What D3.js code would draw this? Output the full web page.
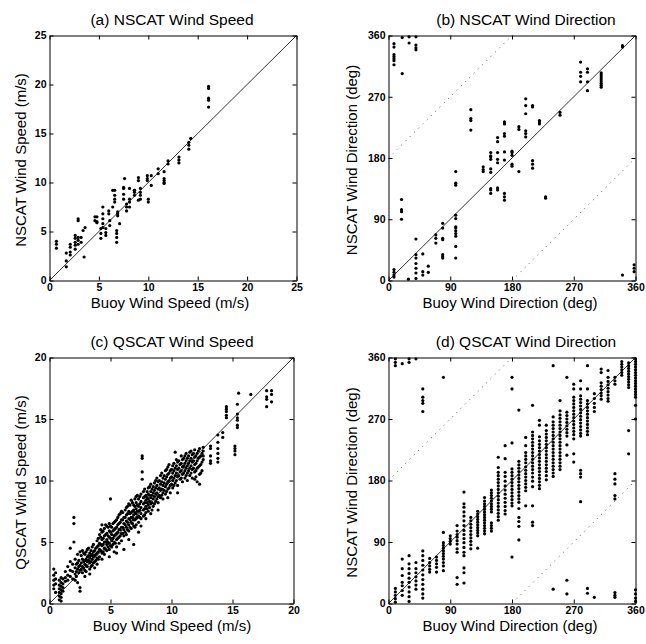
<!DOCTYPE html>
<html>
<head>
<meta charset="utf-8">
<script src="https://cdn.jsdelivr.net/npm/d3@7"></script>
<style>
  body { margin: 0; background: #fff; }
  svg text { font-family: "Liberation Sans", Arial, sans-serif; fill: #000; }
</style>
</head>
<body>
<div id="chart"></div>
<script>
// ---- data: [buoy value, [satellite values...]] ----
var speedTicksA = [0, 5, 10, 15, 20, 25];
var speedTicksC = [0, 5, 10, 15, 20];
var dirTicks = [0, 90, 180, 270, 360];

var titles = ["(a) NSCAT Wind Speed", "(b) NSCAT Wind Direction", "(c) QSCAT Wind Speed", "(d) QSCAT Wind Direction"];
var xLabels = ["Buoy Wind Speed (m/s)", "Buoy Wind Direction (deg)", "Buoy Wind Speed (m/s)", "Buoy Wind Direction (deg)"];
var yLabels = ["NSCAT Wind Speed (m/s)", "NSCAT Wind Direction (deg)", "QSCAT Wind Speed (m/s)", "NSCAT Wind Direction (deg)"];

var nscatSpeed = [
  [0.7, [4.0, 3.7, 3.3]], [1.7, [2.8, 2.0, 1.4]], [2.1, [3.7, 3.4, 2.9, 2.6]],
  [2.6, [4.6, 4.3, 3.9, 3.6, 3.2]], [2.9, [6.3, 6.1, 4.4, 4.1, 3.7]], [3.2, [4.4, 3.9]],
  [3.4, [5.1]], [3.5, [2.4]], [3.6, [5.4]], [4.6, [6.5, 6.1]], [4.8, [6.5, 5.9, 6.0]],
  [5.2, [5.3, 4.8, 4.3]], [5.4, [7.5, 6.8, 6.3, 5.8, 5.4]], [5.7, [5.3, 4.9, 4.6]],
  [6.0, [7.1, 6.8]], [6.1, [6.1, 5.6]], [6.4, [7.5, 9.2]], [6.6, [9.2, 8.7, 8.3, 8.0]],
  [6.8, [5.1, 4.8, 4.4, 3.9]], [6.9, [7.0, 6.8, 6.6]], [7.1, [5.8]],
  [7.5, [9.5, 9.4, 8.8, 8.3]], [7.6, [10.4]], [7.8, [7.8, 7.5, 7.1]],
  [8.1, [9.4, 8.3, 8.0, 7.5]], [8.6, [9.2, 9.2, 9.0, 8.7]], [9.0, [10.5, 10.2, 8.2]],
  [9.2, [9.4, 9.0, 8.7, 8.3]], [9.9, [10.7, 10.4, 10.2]], [10.0, [8.3, 8.0]],
  [10.3, [10.7, 9.7]], [11.0, [11.4, 10.9]], [11.6, [11.1, 10.4, 10.2, 10.0, 9.9]],
  [12.0, [12.2, 11.9]], [13.1, [12.6, 12.3, 12.0]], [14.1, [14.1, 13.8, 13.4]],
  [14.3, [14.5]], [16.1, [19.8, 19.6, 18.6, 18.4, 17.7]]
];

var nscatDir = [
  [8, [348, 343, 332, 329, 326, 323, 317, 16, 12, 8, 5]], [19, [119, 104, 101, 90]],
  [20, [357, 304]], [29, [2]], [30, [358, 349]],
  [40, [358, 346, 342, 339, 61, 38, 33, 25, 18, 11, 3]], [50, [39, 13, 8]], [58, [21, 12]],
  [69, [67, 62, 55]], [79, [84, 77, 62, 60, 38, 35, 33]],
  [98, [160, 143, 140, 96, 91, 79, 77, 73, 69, 65, 50, 33]], [120, [251, 238, 235, 221]],
  [138, [167, 163, 160]], [149, [188, 183, 182, 178, 164, 159, 135, 133, 128]],
  [159, [210, 204, 188, 178, 173, 136, 133]], [169, [233, 230, 216, 212, 189, 177, 128, 123, 118]],
  [180, [190, 188, 184, 171, 168]], [190, [226, 222, 160]], [200, [267, 257, 245, 220, 216, 211]],
  [210, [257, 255, 176, 171, 165]], [220, [235, 233, 230]], [229, [123, 121]], [250, [247, 243]],
  [280, [321, 306, 300, 292]], [290, [311, 306, 292, 279]],
  [310, [305, 302, 299, 296, 293, 290, 287, 284]], [341, [345, 343, 8]], [358, [23, 18, 13]]
];

var qscatSpeed = [
  [0.35, [2.8, 2.3, 1.9, 1.5, 1.2]], [0.5, [2.5, 2.0, 1.6, 0.9]],
  [0.8, [1.9, 1.5, 1.2, 0.9, 0.6, 0.3]], [0.95, [2.1, 1.7, 1.4, 1.1, 0.8, 0.5, 0.2]],
  [1.1, [2.0, 1.6, 1.3, 1.0]], [1.3, [2.6, 2.1, 1.8]], [1.5, [2.3, 1.9, 3.0]],
  [1.7, [2.7, 2.2, 4.5, 3.4]], [1.9, [3.2, 2.6, 2.0]], [2.0, [7.0, 6.5, 5.0]],
  [2.1, [3.6, 2.9, 2.4, 1.9]], [2.2, [3.2, 2.6, 2.2]], [2.3, [4.0, 3.3, 2.8, 1.7]],
  [2.4, [3.5, 3.0, 2.5]], [2.5, [3.1, 2.7, 1.3, 1.0, 4.2]], [2.6, [3.9, 3.3, 2.8]],
  [2.7, [4.3, 3.6, 3.0, 2.5]], [2.8, [4.1, 3.4, 2.9]], [2.9, [4.0, 3.5, 3.2, 2.7, 2.2]],
  [3.0, [4.2, 3.6, 3.1, 2.6]], [3.1, [4.4, 3.8, 3.4, 3.0]], [3.2, [4.5, 3.9, 3.5]],
  [3.3, [4.1, 3.7, 3.3, 2.8, 2.4]], [3.4, [4.3, 3.9, 3.4, 3.0]], [3.5, [4.6, 4.0, 3.6, 3.1]],
  [3.6, [4.8, 4.2, 3.8, 3.3]], [3.7, [4.3, 3.9, 3.4, 2.9]], [3.8, [4.5, 4.0, 3.5]],
  [3.9, [5.1, 4.6, 4.1, 3.7, 3.2]], [4.0, [5.3, 4.7, 4.2, 3.6]], [4.1, [5.6, 4.9, 4.4, 3.8]],
  [4.2, [6.0, 5.4, 4.8, 4.3]], [4.3, [6.4, 5.8, 5.2, 4.7, 4.1, 3.6]], [4.4, [5.9, 5.3, 4.8, 4.2]],
  [4.5, [6.1, 5.5, 5.0, 4.5, 4.0]], [4.6, [6.4, 5.6, 5.0, 4.4]], [4.7, [6.3, 5.7, 5.2, 4.8, 4.3]],
  [4.8, [6.2, 5.5, 5.0, 4.6]], [4.9, [6.5, 5.9, 5.4, 4.9, 4.4, 3.8]], [5.0, [8.5, 6.3, 5.8, 5.3, 4.7]],
  [5.1, [6.2, 5.6, 5.1, 4.6]], [5.2, [6.5, 5.9, 5.3, 4.8]], [5.3, [6.6, 6.0, 5.5, 5.0, 4.2]],
  [5.4, [6.7, 6.1, 5.6, 4.9]], [5.5, [6.8, 6.2, 5.7, 5.2, 4.6, 4.1]], [5.6, [7.0, 6.4, 5.8, 5.3]],
  [5.7, [7.2, 6.5, 6.0, 5.4, 4.9]], [5.8, [7.3, 6.6, 6.0, 5.5]], [5.9, [7.5, 6.8, 6.2, 5.7, 5.1]],
  [6.0, [7.4, 6.8, 6.2, 5.7]], [6.1, [7.0, 6.5, 6.0, 5.5, 4.4]], [6.2, [7.6, 7.0, 6.4, 5.8]],
  [6.3, [7.8, 7.2, 6.7, 6.2, 5.6]], [6.4, [7.9, 7.3, 6.6, 6.0]], [6.5, [8.1, 7.5, 6.9, 6.4, 5.9, 5.2]],
  [6.6, [8.0, 7.3, 6.8, 6.2]], [6.7, [8.4, 7.4, 7.0, 6.6, 6.1]], [6.8, [8.2, 7.5, 7.0, 6.5]],
  [6.9, [8.0, 7.6, 7.2, 6.8, 6.3, 4.8]], [7.0, [8.5, 7.9, 7.4, 6.8, 6.2]],
  [7.1, [8.7, 8.2, 7.7, 7.3, 6.9, 6.4]], [7.2, [8.8, 8.0, 7.5, 7.0]],
  [7.3, [8.5, 7.9, 7.5, 7.1, 6.6, 5.8]], [7.4, [8.7, 8.1, 7.6, 7.0]],
  [7.5, [8.9, 8.3, 7.8, 7.3, 6.9, 6.3]], [7.6, [12.0, 11.8, 10.7, 10.1]],
  [7.7, [9.1, 8.6, 8.1, 7.6, 7.1]], [7.8, [9.3, 8.7, 8.2, 7.7, 7.2]], [7.9, [8.8, 8.4, 7.9, 7.4, 6.9]],
  [8.0, [9.1, 8.6, 8.2, 7.7]], [8.1, [9.4, 8.9, 8.5, 8.0, 7.5]], [8.2, [9.5, 8.8, 8.3, 7.8]],
  [8.3, [9.7, 9.1, 8.6, 8.1, 7.3]], [8.4, [9.3, 8.8, 8.2, 7.6]], [8.5, [9.5, 9.0, 8.5, 7.9]],
  [8.6, [9.8, 9.2, 8.7, 8.1]], [8.7, [10.0, 9.4, 8.9, 8.3]], [8.8, [10.2, 9.6, 9.0, 8.5]],
  [8.9, [9.9, 9.3, 8.7, 8.2, 7.6]], [9.0, [10.0, 9.4, 8.8]], [9.1, [10.4, 9.7, 9.2, 8.6]],
  [9.2, [10.6, 9.9, 9.3, 8.8]], [9.3, [10.2, 9.6, 9.0, 8.5]], [9.4, [10.4, 9.8, 9.2]],
  [9.5, [10.8, 10.1, 9.5, 8.9]], [9.6, [10.9, 10.3, 9.7, 9.1]], [9.7, [11.1, 10.5, 9.9, 9.3, 8.6]],
  [9.8, [11.3, 10.6, 10.0, 9.4]], [9.9, [10.8, 10.2, 9.6, 9.0]], [10.0, [10.9, 10.3, 9.7]],
  [10.1, [11.2, 10.6, 10.0, 9.4]], [10.2, [11.4, 10.8, 10.2, 9.6]], [10.3, [12.3, 11.0, 10.4, 9.8]],
  [10.4, [11.7, 11.2, 10.6, 10.0]], [10.5, [11.5, 10.9, 10.3, 9.6, 9.0]], [10.6, [11.6, 11.0, 10.4]],
  [10.7, [11.3, 10.7, 10.1]], [10.8, [12.0, 11.4, 10.8, 10.2]], [10.9, [11.7, 11.1, 10.5, 9.9]],
  [11.0, [11.8, 11.2, 10.6]], [11.1, [12.0, 11.4, 10.8, 10.2]], [11.2, [12.2, 11.6, 11.0, 10.4]],
  [11.3, [11.8, 11.2, 10.6, 10.0]], [11.4, [12.0, 11.4, 10.8]], [11.5, [12.3, 11.6, 11.0, 10.4]],
  [11.6, [12.4, 11.8, 11.2, 10.6]], [11.7, [12.1, 11.5, 10.9, 10.2]], [11.8, [12.2, 11.6, 11.0]],
  [11.9, [12.5, 11.9, 11.3, 10.7, 10.1]], [12.0, [12.0, 11.4, 10.8, 10.3]],
  [12.1, [12.2, 11.6, 11.0, 9.9]], [12.2, [12.4, 11.8, 11.1]], [12.3, [12.6, 11.9, 11.2, 10.5, 9.7]],
  [12.4, [12.0, 11.3, 10.6]], [12.5, [12.2, 11.5, 10.8]], [12.6, [12.7, 12.4, 12.0, 11.7]],
  [13.2, [12.8, 12.6, 12.0, 11.6, 11.4]], [13.8, [13.7, 13.1, 12.6, 12.2, 11.8, 11.5]],
  [14.2, [13.9, 13.5]], [14.5, [16.0, 15.8, 15.6, 15.3, 15.1]], [15.2, [12.8, 12.6, 12.4, 12.1]],
  [15.4, [16.2, 15.4, 15.1, 14.9, 14.5, 14.3]], [15.5, [17.1]], [16.5, [17.0]],
  [17.8, [17.3, 16.8, 16.6, 16.0]], [18.2, [17.3, 17.0, 16.4]]
];

var qscatDir = [
  [10, [358, 353, 348, 22, 17, 12, 7, 2]],
  [20, [351, 65, 51, 41, 31, 26, 19, 12]],
  [30, [358, 353, 70, 58, 51, 44, 37, 31, 24, 17, 10, 3]],
  [40, [358, 60, 51, 45, 39, 33, 27, 21]],
  [50, [314, 302, 297, 293, 281, 77, 70, 63, 56, 49, 42, 35, 28, 21, 14, 8]],
  [60, [66, 60, 55, 50, 46]],
  [70, [68, 63, 58, 53, 46]],
  [80, [331, 104, 89, 85, 81, 77, 73, 69, 65, 60, 55, 48]],
  [90, [99, 95, 91, 87]],
  [100, [114, 106, 101, 97, 92, 87, 80, 75, 38, 28]],
  [110, [163, 146, 141, 134, 128, 121, 114, 107, 101, 95, 89, 82, 75, 70, 52, 45, 30]],
  [120, [126, 121, 116, 111, 106, 101, 96, 91, 86, 80]],
  [130, [135, 131, 127, 123, 119, 115, 111, 107, 103, 99, 81]],
  [140, [155, 150, 146, 142, 138, 134, 130, 126, 122, 118, 114, 110, 106, 102]],
  [150, [166, 162, 158, 154, 150, 146, 142, 138, 134, 118, 114, 110, 106]],
  [160, [214, 199, 192, 187, 182, 177, 172, 167, 162, 157, 152, 147, 142, 137, 132, 127, 122]],
  [170, [231, 212, 192, 186, 179, 172, 166, 160, 154, 148, 142, 136, 131]],
  [180, [331, 314, 235, 197, 192, 187, 182, 177, 172, 167, 162, 157, 152, 147, 143, 68]],
  [190, [283, 208, 203, 198, 193, 188, 183, 178, 173, 168, 163, 158, 153, 148, 139, 126, 120, 113, 93]],
  [200, [243, 231, 221, 216, 211, 206, 200, 195, 190, 185, 180, 175, 170, 165, 143]],
  [210, [290, 251, 246, 241, 236, 231, 226, 221, 216, 211, 206, 201, 196, 191, 185, 179, 171, 143, 119, 114]],
  [220, [268, 261, 244, 238, 233, 228, 223, 218, 213, 208, 203, 198, 193, 188, 183, 178, 173, 168]],
  [230, [261, 253, 248, 243, 238, 233, 228, 223, 218, 213, 208, 203, 198, 193, 187, 181]],
  [240, [348, 273, 266, 261, 256, 251, 246, 241, 236, 231, 226, 221, 216, 211, 206, 201, 196, 191, 186, 21]],
  [250, [297, 282, 276, 271, 266, 261, 256, 251, 246, 241, 236, 231, 226, 221, 216, 211, 206, 201, 196]],
  [260, [331, 280, 275, 270, 265, 260, 255, 250, 245, 232, 217, 34, 14]],
  [270, [321, 314, 302, 297, 292, 287, 282, 277, 272, 267, 262, 257, 252, 247, 241, 219, 207]],
  [280, [326, 314, 304, 299, 294, 289, 284, 279, 274, 269, 264, 259, 254, 249, 245, 195, 190, 185, 149]],
  [290, [348, 314, 297, 292, 287, 282, 277, 272, 267, 262, 257, 252, 247, 22, 15]],
  [300, [307, 300, 293, 287, 281, 9]],
  [310, [343, 338, 323, 318, 313, 308, 304, 299]],
  [320, [341, 331, 325, 320, 315, 310, 305, 300, 296]],
  [330, [331, 326, 321, 190, 182, 175, 158, 153, 16, 12, 9]],
  [340, [354, 350, 346, 342, 338, 334]],
  [350, [352, 348, 344, 340, 336, 332, 328, 324, 320, 316, 253, 219]],
  [360, [358, 354, 350, 346, 342, 338, 334, 330, 326, 322, 318, 314, 310, 306, 302, 290, 270, 20, 14, 8, 3]]
];

// ---- layout ----
var panels = [
  { cols: nscatSpeed, max: 25, ticks: speedTicksA, left: 49.5, right: 296.5, top: 35.5, bottom: 280.5, titleX: 172, labX: 170, ylabX: 26, dir: false },
  { cols: nscatDir, max: 360, ticks: dirTicks, left: 388.5, right: 635.5, top: 35.5, bottom: 280.5, titleX: 526, labX: 510, ylabX: 357, dir: true },
  { cols: qscatSpeed, max: 20, ticks: speedTicksC, left: 49.5, right: 293.5, top: 357.5, bottom: 603.5, titleX: 172, labX: 172, ylabX: 26, dir: false },
  { cols: qscatDir, max: 360, ticks: dirTicks, left: 388.5, right: 635.5, top: 357.5, bottom: 603.5, titleX: 526, labX: 510, ylabX: 357, dir: true }
];

var svg = d3.select("#chart").append("svg")
  .attr("width", 646)
  .attr("height", 644);

panels.forEach(function (p, i) {
  var x = d3.scaleLinear().domain([0, p.max]).range([p.left, p.right]);
  var y = d3.scaleLinear().domain([0, p.max]).range([p.bottom, p.top]);
  var g = svg.append("g");

  // frame with inward ticks on all four sides
  var axes = [
    [d3.axisBottom(x), "translate(0," + p.bottom + ")", true],
    [d3.axisTop(x), "translate(0," + p.top + ")", false],
    [d3.axisLeft(y), "translate(" + p.left + ",0)", true],
    [d3.axisRight(y), "translate(" + p.right + ",0)", false]
  ];
  axes.forEach(function (a) {
    var ax = a[0].tickValues(p.ticks).tickSize(-4).tickSizeOuter(0).tickPadding(3);
    if (!a[2]) ax.tickFormat("");
    var ag = g.append("g").attr("transform", a[1]).call(ax);
    ag.select(".domain").attr("stroke", "#000").attr("stroke-width", 1);
    ag.selectAll(".tick line").attr("stroke", "#000");
    ag.selectAll("text")
      .style("font-size", "10.5px")
      .style("font-weight", "bold")
      .attr("fill", "#000");
  });

  // 1:1 line
  g.append("line")
    .attr("x1", x(0)).attr("y1", y(0))
    .attr("x2", x(p.max)).attr("y2", y(p.max))
    .attr("stroke", "#000").attr("stroke-width", 0.8);

  // +/-180 deg wrap lines
  if (p.dir) {
    [[0, 180, 180, 360], [180, 0, 360, 180]].forEach(function (l) {
      g.append("line")
        .attr("x1", x(l[0])).attr("y1", y(l[1]))
        .attr("x2", x(l[2])).attr("y2", y(l[3]))
        .attr("stroke", "#555").attr("stroke-width", 1)
        .attr("stroke-dasharray", "1,5");
    });
  }

  var pts = [];
  p.cols.forEach(function (c) {
    c[1].forEach(function (v) { pts.push([c[0], v]); });
  });

  g.selectAll("circle.pt")
    .data(pts)
    .enter()
    .append("circle")
    .attr("class", "pt")
    .attr("cx", function (d) { return x(d[0]); })
    .attr("cy", function (d) { return y(d[1]); })
    .attr("r", 1.6)
    .attr("fill", "#000");

  g.append("text")
    .attr("x", p.titleX).attr("y", p.top - 11)
    .attr("text-anchor", "middle")
    .style("font-size", "15.5px")
    .text(titles[i]);

  g.append("text")
    .attr("x", p.labX).attr("y", p.bottom + 27)
    .attr("text-anchor", "middle")
    .style("font-size", "15px")
    .text(xLabels[i]);

  var cy = (p.top + p.bottom) / 2 + 2;
  g.append("text")
    .attr("transform", "translate(" + p.ylabX + "," + cy + ") rotate(-90)")
    .attr("text-anchor", "middle")
    .style("font-size", "15px")
    .text(yLabels[i]);
});
</script>
</body>
</html>
